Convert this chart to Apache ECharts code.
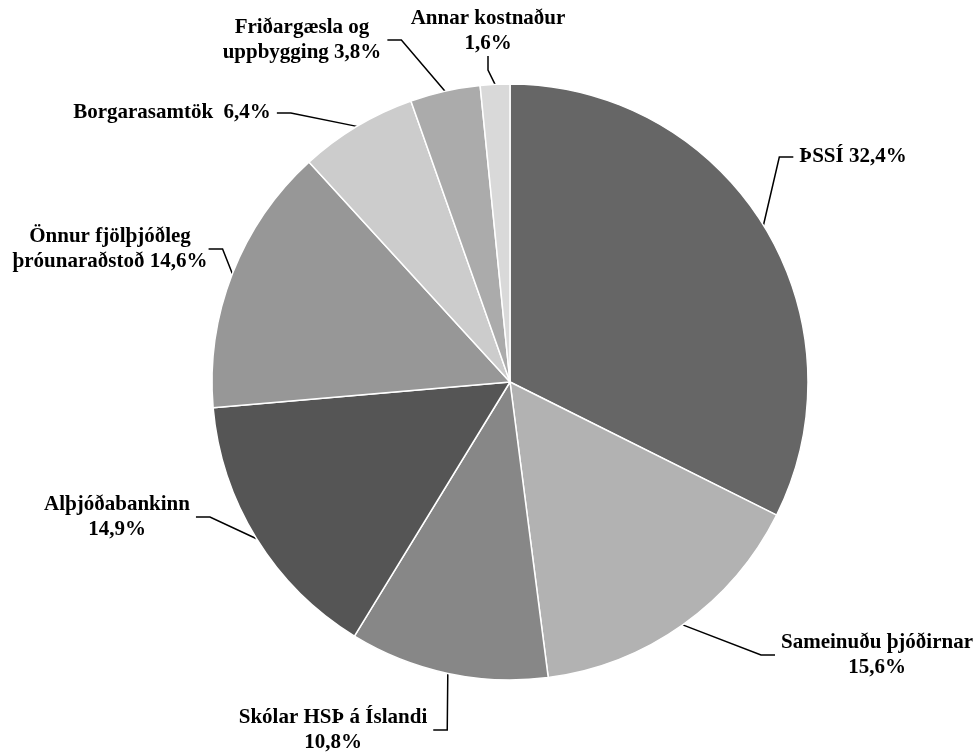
<!DOCTYPE html>
<html>
<head>
<meta charset="utf-8">
<script src="https://cdn.jsdelivr.net/npm/echarts@6/dist/echarts.min.js"></script>
<style>
  html, body { margin: 0; padding: 0; background: #fff; }
  #chart { width: 979px; height: 756px; }
</style>
</head>
<body>
<div id="chart"></div>
<script>
// categories, clockwise from 12 o'clock
var categories = ['ÞSSÍ', 'Sameinuðu þjóðirnar', 'Skólar HSÞ á Íslandi', 'Alþjóðabankinn',
  'Önnur fjölþjóðleg\nþróunaraðstoð', 'Borgarasamtök ', 'Friðargæsla og\nuppbygging', 'Annar kostnaður'];
var shares = [32.4, 15.6, 10.8, 14.9, 14.6, 6.4, 3.8, 1.6];
// label separator between name and percentage
var separators = [' ', '\n', '\n', '\n', ' ', ' ', ' ', '\n'];
var sliceColors = ['#666666', '#b2b2b2', '#878787', '#555555', '#979797', '#cccccc', '#ababab', '#d9d9d9'];
// label centres (text placement only)
var labelPos = [[853, 157], [877, 655], [333, 730], [117, 517], [110, 249], [172, 113], [302, 40], [488, 31]];

document.addEventListener('DOMContentLoaded', function(){
  var chart = echarts.init(document.getElementById('chart'));
  var data = categories.map(function(c, i){
    return { name: c, value: shares[i], itemStyle: { color: sliceColors[i] } };
  });
  chart.setOption({
    animation: false,
    series: [{
      type: 'pie',
      center: [510, 382],
      radius: 298,
      startAngle: 90,
      clockwise: true,
      data: data,
      itemStyle: { borderColor: '#fff', borderWidth: 1.5 },
      label: {
        show: true,
        position: 'outside',
        color: '#000',
        fontFamily: 'Liberation Serif',
        fontWeight: 'bold',
        fontSize: 21,
        lineHeight: 25,
        align: 'center',
        padding: [0, 6],
        overflow: 'none',
        formatter: function(p){
          return p.name + separators[p.dataIndex] + shares[p.dataIndex].toFixed(1).replace('.', ',') + '%';
        }
      },
      labelLine: {
        show: true,
        length: 12,
        length2: 14,
        lineStyle: { color: '#000', width: 1.5 }
      },
      labelLayout: function(params){
        var p = labelPos[params.dataIndex];
        return { x: p[0], y: p[1], align: 'center', verticalAlign: 'middle' };
      }
    }]
  });
});
</script>
</body>
</html>
